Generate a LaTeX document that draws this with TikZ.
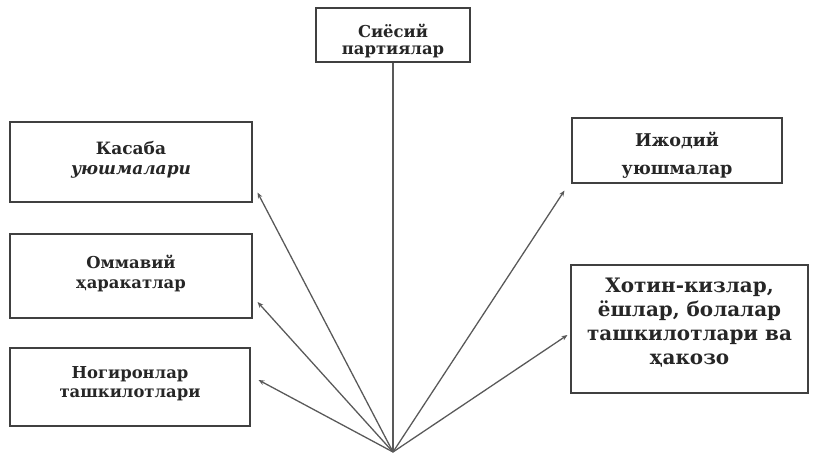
\documentclass[tikz,border=0pt]{standalone}
\usepackage{fontspec}
\setmainfont{DejaVu Serif}
\usepackage{tikz}
\usetikzlibrary{arrows.meta}

\begin{document}
\begin{tikzpicture}[x=0.03cm,y=-0.03cm,
  font=\fontsize{14}{17}\selectfont\bfseries,
  orgbox/.style={draw=black!75,line width=0.9pt,align=center,inner sep=0pt,text=black!85},
  arr/.style={draw=black!65,line width=1.1pt,-{Stealth[length=5pt,width=4pt]}}]
  \useasboundingbox (0,0) rectangle (815,453);
  \coordinate (base) at (393,452);
  \node[orgbox,minimum width=154*0.03cm,minimum height=54*0.03cm,font=\fontsize{14}{15}\selectfont\bfseries] (siyosiy) at (393,35) {\mbox{}\\[6.5pt]Сиёсий\\партиялар};
  \node[orgbox,minimum width=242*0.03cm,minimum height=80*0.03cm,font=\fontsize{14.5}{17}\selectfont\bfseries] (kasaba) at (131,162) {Касаба\\\textit{уюшмалари}\\[-10pt]};
  \node[orgbox,minimum width=242*0.03cm,minimum height=84*0.03cm] (ommaviy) at (131,276) {Оммавий\\ҳаракатлар\\[-10pt]};
  \node[orgbox,minimum width=240*0.03cm,minimum height=78*0.03cm] (nogiron) at (130,387) {Ногиронлар\\ташкилотлари\\[-8.5pt]};
  \node[orgbox,minimum width=210*0.03cm,minimum height=65*0.03cm,font=\fontsize{15}{24}\selectfont\bfseries] (ijodiy) at (677,150.5) {\mbox{}\\[-3.5pt]Ижодий\\уюшмалар};
  \node[orgbox,minimum width=237*0.03cm,minimum height=128*0.03cm,font=\fontsize{17}{20.5}\selectfont\bfseries] (xotin) at (689.5,329) {Хотин-кизлар,\\ёшлар, болалар\\ташкилотлари ва\\ҳакозо\\[-7pt]};
  \draw[draw=black!65,line width=1.1pt] (base) -- (siyosiy.south);
  \draw[arr] (base) -- ([shift={(5,-10)}]kasaba.south east);
  \draw[arr] (base) -- ([shift={(5,26)}]ommaviy.east);
  \draw[arr] (base) -- ([shift={(8,-7)}]nogiron.east);
  \draw[arr] (base) -- ([shift={(-7,7)}]ijodiy.south west);
  \draw[arr] (base) -- ([shift={(-3,6)}]xotin.west);
\end{tikzpicture}
\end{document}
